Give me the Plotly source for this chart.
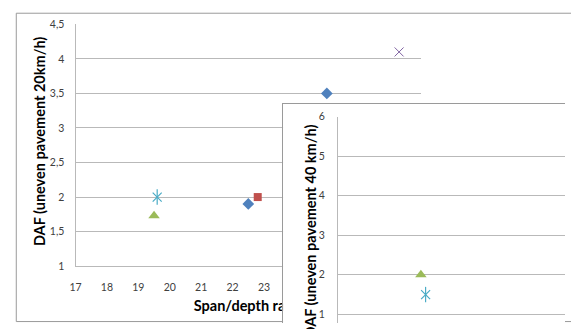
import plotly.graph_objects as go

W, H = 571, 329

# ---- data: main chart (DAF, uneven pavement 20 km/h) ----
s1_x = [22.5, 25.0]; s1_y = [1.9, 3.5]      # blue diamonds
s2_x = [22.8];       s2_y = [2.0]           # red square
s3_x = [19.5];       s3_y = [1.73]          # green triangle
s4_x = [27.3];       s4_y = [4.1]           # purple x
s5_x = [19.6];       s5_y = [2.0]           # aqua star

main_xlim = [17, 28]
main_ylim = [1, 4.5]

# ---- data: inset chart (DAF, uneven pavement 40 km/h) ----
i3_x = [19.5];  i3_y = [2.0]                # green triangle
i5_x = [19.65]; i5_y = [1.5]                # aqua star

inset_xlim = [16.85, 24.1]
inset_ylim = [0.78, 6]

main_title_x = "Span/depth ratio"
main_title_y = "DAF (uneven pavement 20km/h)"
inset_title_y = "DAF (uneven pavement 40 km/h)"

BLUE, RED, GREEN, PURPLE, AQUA = "#4F81BD", "#C0504D", "#9BBB59", "#8064A2", "#4BACC6"
GRID = "#b9b9b9"
BORDER = "#9a9a9a"
FONT = "Lato"
TICKC = "#404040"
TITLE_SIZE = 14.5


def px_x(p):
    return p / W


def px_y(p):
    return (H - p) / H


fig = go.Figure()


def add_series(xs, ys, xa, ya, symbol, color, size, lw=0):
    fig.add_trace(go.Scatter(
        x=xs, y=ys, mode="markers",
        marker=dict(symbol=symbol, size=size, color=color, line=dict(color=color, width=lw)),
        xaxis=xa, yaxis=ya, showlegend=False, hoverinfo="skip", cliponaxis=False))


# main subplot (xy)
add_series(s1_x, s1_y, "x", "y", "diamond", BLUE, 9)
add_series(s2_x, s2_y, "x", "y", "square", RED, 8)
add_series(s3_x, s3_y, "x", "y", "triangle-up", GREEN, 10)
add_series(s4_x, s4_y, "x", "y", "x-thin-open", PURPLE, 9, lw=1)
add_series(s5_x, s5_y, "x", "y", "x-thin-open", AQUA, 9, lw=1.2)
add_series(s5_x, s5_y, "x", "y", "line-ns-open", AQUA, 11, lw=1.2)

# x2y2: strip below the main plot holding the main x-axis title
# (drawn in a subplot layer so the inset box covers its end, as in the reference)
fig.add_trace(go.Scatter(
    x=[0.5], y=[0.5], mode="text", text=[f"<b>{main_title_x}</b>"],
    textposition="middle center",
    textfont=dict(family=FONT, size=TITLE_SIZE, color="#000000"),
    xaxis="x2", yaxis="y2", showlegend=False, hoverinfo="skip", cliponaxis=False))

# x3y3: the inset chart's white box with its border
fig.add_trace(go.Scatter(x=[], y=[], xaxis="x3", yaxis="y3", showlegend=False, hoverinfo="skip"))

# x4y4: inset plot
add_series(i3_x, i3_y, "x4", "y4", "triangle-up", GREEN, 10)
add_series(i5_x, i5_y, "x4", "y4", "x-thin-open", AQUA, 9, lw=1.2)
add_series(i5_x, i5_y, "x4", "y4", "line-ns-open", AQUA, 11, lw=1.2)

tickfont = dict(family=FONT, size=10.5, color=TICKC)
hidden = dict(showgrid=False, zeroline=False, showline=False, showticklabels=False,
              ticks="", fixedrange=True)

fig.update_layout(
    width=W, height=H,
    margin=dict(l=0, r=0, t=0, b=0),
    paper_bgcolor="white", plot_bgcolor="white",
    separators=",.",
    showlegend=False,
    xaxis=dict(domain=[px_x(71), px_x(424)], range=main_xlim, dtick=1, tick0=17,
               showgrid=False, zeroline=False, showline=True, linecolor=GRID, linewidth=1,
               ticks="", tickfont=tickfont, ticklabelstandoff=11, anchor="y", fixedrange=True),
    yaxis=dict(domain=[px_y(270), px_y(19)], range=main_ylim, dtick=0.5, tick0=1,
               showgrid=True, gridcolor=GRID, gridwidth=1, zeroline=False,
               showline=True, linecolor=GRID, linewidth=1,
               ticks="", tickfont=tickfont, ticklabelstandoff=8, anchor="x", fixedrange=True),
    xaxis2=dict(domain=[px_x(71), px_x(424)], range=[0, 1], anchor="y2", **hidden),
    yaxis2=dict(domain=[px_y(326), px_y(300)], range=[0, 1], anchor="x2", **hidden),
    xaxis3=dict(domain=[px_x(283), 1], range=[0, 1], side="top", showline=True, linecolor=BORDER,
                showgrid=False, zeroline=False, showticklabels=False, ticks="", anchor="y3",
                fixedrange=True),
    yaxis3=dict(domain=[0, px_y(102)], range=[0, 1], side="left", showline=True, linecolor=BORDER,
                showgrid=False, zeroline=False, showticklabels=False, ticks="", anchor="x3",
                fixedrange=True),
    xaxis4=dict(domain=[px_x(339), 1], range=inset_xlim, anchor="y4", **hidden),
    yaxis4=dict(domain=[0, px_y(115)], range=inset_ylim, dtick=1, tick0=0,
                showgrid=True, gridcolor=GRID, gridwidth=1, zeroline=False,
                showline=True, linecolor=GRID, linewidth=1,
                ticks="", tickfont=tickfont, ticklabelstandoff=10, anchor="x4", fixedrange=True),
    shapes=[dict(type="rect", xref="paper", yref="paper",
                 x0=px_x(10.5), x1=1.2, y0=px_y(327.5), y1=px_y(7.5),
                 line=dict(color=BORDER, width=1), fillcolor="rgba(0,0,0,0)", layer="below")],
    annotations=[
        dict(text=f"<b>{main_title_y}</b>", xref="paper", yref="paper",
             x=px_x(35), y=px_y(141), xanchor="center", yanchor="middle",
             textangle=-90, showarrow=False,
             font=dict(family=FONT, size=TITLE_SIZE, color="#000000")),
        dict(text=f"<b>{inset_title_y}</b>", xref="paper", yref="paper",
             x=px_x(311), y=px_y(121), xanchor="center", yanchor="top",
             textangle=-90, showarrow=False,
             font=dict(family=FONT, size=TITLE_SIZE, color="#000000")),
    ],
)

fig.write_html("out.html")
